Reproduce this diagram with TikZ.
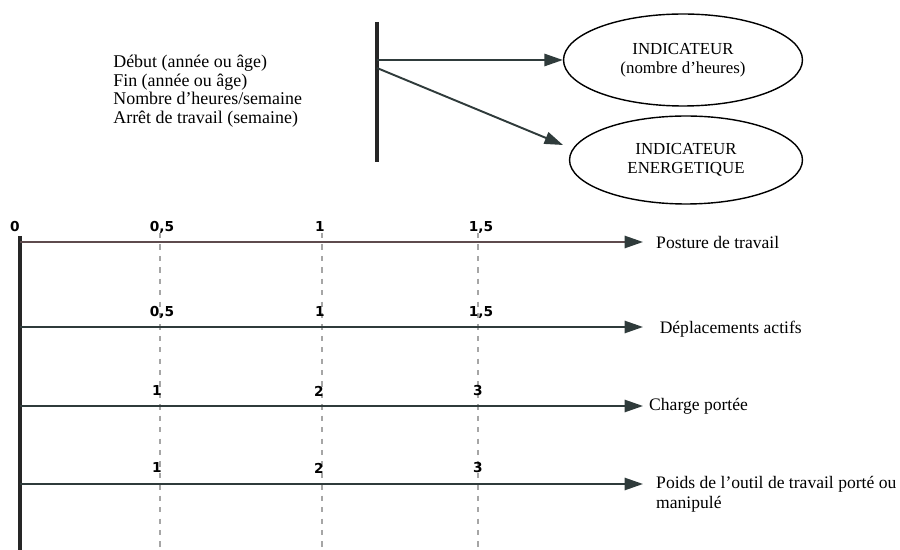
\documentclass[tikz,border=0pt]{standalone}
\usepackage{fontspec}
\setmainfont{Liberation Serif}
\newfontfamily\chiffres{DejaVu Sans}
\usetikzlibrary{arrows.meta,shapes.geometric,positioning}
\definecolor{ardoise}{HTML}{2F3B3B}
\definecolor{brunrouge}{HTML}{5E4B4D}

\begin{document}
\begin{tikzpicture}[
				x=0.02cm,y=-0.02cm,
				indic/.style={draw,ellipse,line width=0.8pt,align=center,font=\fontsize{9.6}{11}\selectfont},
				fleche/.style={-{Triangle[length=10.5pt,width=7pt,color=ardoise]},line width=1.1pt,draw=ardoise},
				barre/.style={line width=1.8pt,black!85},
				pointille/.style={gray!70,line width=0.6pt,dash pattern=on 3pt off 3.5pt},
				graduation/.style={font=\chiffres\bfseries\fontsize{7.8}{9}\selectfont,inner sep=1pt},
				etiquette/.style={font=\fontsize{10}{11.3}\selectfont,align=left}
				]
				\useasboundingbox (0,0) rectangle (900,550);
				
				% Variables d'entrée
				\node[anchor=west,align=left,inner sep=0pt,font=\fontsize{10.2}{10.6}\selectfont] (variables) at (113,91) {
					Début (année ou âge)\\
					Fin (année ou âge)\\
					Nombre d'heures/semaine\\
					Arrêt de travail (semaine)};
				
				% Barre verticale et indicateurs
				\coordinate (barreH) at (377,22);
				\coordinate (barreB) at (377,162);
				\draw[barre] (barreH) -- (barreB);
				\coordinate (depart1) at (377,60);
				\coordinate (depart2) at (377,68);
				\node[indic,minimum width=4.78cm,minimum height=1.84cm] (ind1) at (683,60) {INDICATEUR\\(nombre d'heures)};
				\node[indic,minimum width=4.66cm,minimum height=1.76cm] (ind2) at (686,160) {INDICATEUR\\ENERGETIQUE};
				\coordinate (pointe2) at (563,145);
				\draw[fleche] (depart1) -- (ind1.west);
				\draw[fleche] (depart2) -- (pointe2);
				
				% Axe vertical et pointillés
				\coordinate (origine) at (20,236);
				\coordinate (basaxe) at (20,550);
				\draw[barre] (origine) -- (basaxe);
				\foreach \x in {160,322,478}
					\draw[pointille] (\x,233) -- (\x,550);
				\node[graduation] (zero) at (15,227) {0};
				
				% Lignes horizontales
				\coordinate (d1) at (20,242);
				\coordinate (f1) at (643,242);
				\coordinate (d2) at (20,327);
				\coordinate (f2) at (643,327);
				\coordinate (d3) at (20,406);
				\coordinate (f3) at (643,406);
				\coordinate (d4) at (20,484);
				\coordinate (f4) at (643,484);
				\draw[fleche,draw=brunrouge] (d1) -- (f1);
				\draw[fleche] (d2) -- (f2);
				\draw[fleche] (d3) -- (f3);
				\draw[fleche] (d4) -- (f4);
				
				% Étiquettes
				\node[etiquette,right=4pt of f1] (posture) {Posture de travail};
				\node[etiquette,right=6pt of f2,yshift=-1.5pt] (deplacement) {Déplacements actifs};
				\node[etiquette,right=0pt of f3] (charge) {Charge portée};
				\node[etiquette,anchor=north west] (poids) at ([xshift=4pt,yshift=8pt]f4) {Poids de l'outil de travail porté ou\\manipulé};
				
				% Graduations
				\node[graduation] (g11) at (162,227) {0,5};
				\node[graduation] (g12) at (320,227) {1};
				\node[graduation] (g13) at (481,227) {1,5};
				\node[graduation] (g21) at (162,312) {0,5};
				\node[graduation] (g22) at (320,312) {1};
				\node[graduation] (g23) at (481,312) {1,5};
				\node[graduation] (g31) at (157,391) {1};
				\node[graduation] (g32) at (319,391) {2};
				\node[graduation] (g33) at (478,391) {3};
				\node[graduation] (g41) at (157,468) {1};
				\node[graduation] (g42) at (319,468) {2};
				\node[graduation] (g43) at (478,468) {3};
				
			\end{tikzpicture}
\end{document}
